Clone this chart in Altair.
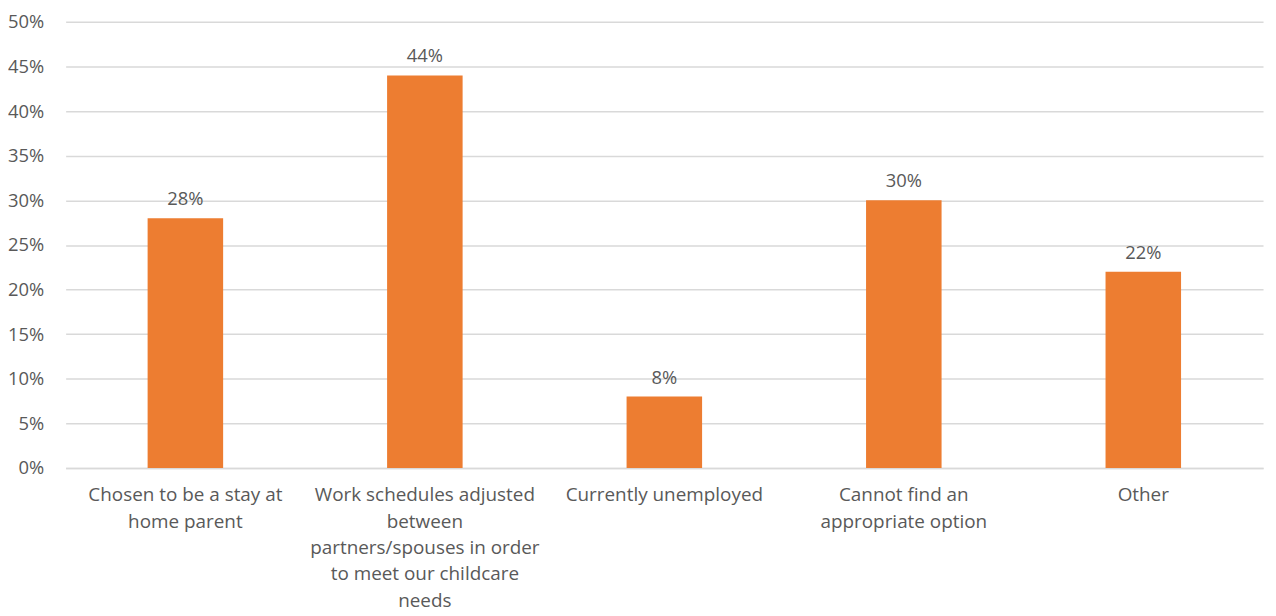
import altair as alt
import pandas as pd

categories = [
    "Chosen to be a stay at|home parent",
    "Work schedules adjusted|between|partners/spouses in order|to meet our childcare|needs",
    "Currently unemployed",
    "Cannot find an|appropriate option",
    "Other",
]
values = [0.28, 0.44, 0.08, 0.30, 0.22]

df = pd.DataFrame({"category": categories, "value": values})

FONT = "Open Sans"
GREY = "#595959"

x = alt.X(
    "category:N",
    sort=categories,
    scale=alt.Scale(paddingInner=0, paddingOuter=0),
    axis=alt.Axis(
        title=None,
        labelAngle=0,
        labelExpr="split(datum.label, '|')",
        labelFont=FONT,
        labelFontSize=19,
        labelColor=GREY,
        labelLineHeight=26.5,
        labelPadding=18,
        labelBaseline="top",
        ticks=False,
        domainColor="#d9d9d9",
        domainWidth=1.5,
        labelLimit=300,
    ),
)

y = alt.Y(
    "value:Q",
    scale=alt.Scale(domain=[0, 0.5]),
    axis=alt.Axis(
        title=None,
        format=".0%",
        values=[i * 0.05 for i in range(11)],
        labelFont=FONT,
        labelFontSize=18.5,
        labelColor=GREY,
        labelPadding=22,
        ticks=False,
        domain=False,
        grid=True,
        gridColor="#d9d9d9",
        gridWidth=1.5,
    ),
)

bars = alt.Chart(df).mark_bar(color="#ED7D31", size=76).encode(x=x, y=y)
labels = alt.Chart(df).mark_text(
    font=FONT, fontSize=18.5, color=GREY, baseline="bottom", dy=-9
).encode(x=x, y=y, text=alt.Text("value:Q", format=".0%"))

chart = (bars + labels).properties(
    width=1205,
    height=449,
    autosize=alt.AutoSizeParams(type="none"),
    padding={"left": 58, "top": 12, "right": 5, "bottom": 147},
).configure_view(stroke=None)

chart.save("out.html", embed_options={"renderer": "svg", "actions": False})
